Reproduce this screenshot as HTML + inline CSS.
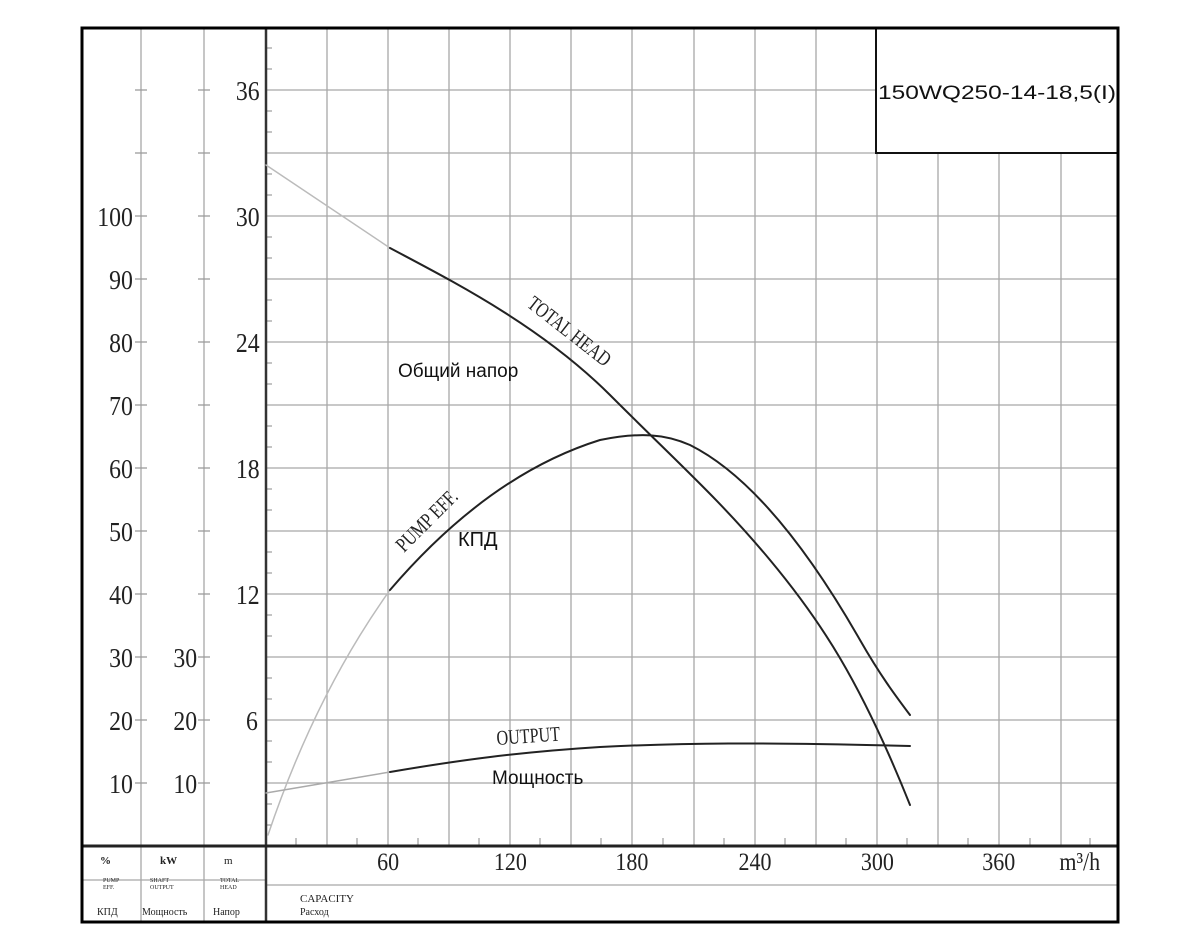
<!DOCTYPE html>
<html><head><meta charset="utf-8"><style>
html,body{margin:0;padding:0;background:#fff;}
svg{display:block;}
.s{font-family:"Liberation Serif",serif;fill:#222;}
.a{font-family:"Liberation Sans",sans-serif;fill:#111;}
</style></head><body>
<svg width="1200" height="950" viewBox="0 0 1200 950" xmlns="http://www.w3.org/2000/svg">
<rect width="1200" height="950" fill="#fff"/>
<g stroke="#a8a8a8" stroke-width="1.3" fill="none">
<path d="M327 28V846M388 28V846M449 28V846M510 28V846M571 28V846M632 28V846M694 28V846M755 28V846M816 28V846M877 153V846M938 153V846M999 153V846M1061 153V846"/>
<path d="M266 90H876M266 153H1118M266 216H1118M266 279H1118M266 342H1118M266 405H1118M266 468H1118M266 531H1118M266 594H1118M266 657H1118M266 720H1118M266 783H1118"/>
<path d="M141 28V922M204 28V922"/>
<path d="M82 880H266M266 885H1118"/>
</g>
<g stroke="#999" stroke-width="1.3">
<path d="M135 90h12M198 90h12M135 153h12M198 153h12M135 216h12M198 216h12M135 279h12M198 279h12M135 342h12M198 342h12M135 405h12M198 405h12M135 468h12M198 468h12M135 531h12M198 531h12M135 594h12M198 594h12M135 657h12M198 657h12M135 720h12M198 720h12M135 783h12M198 783h12"/>
</g>
<g stroke="#888" stroke-width="1">
<path d="M266 48h6M266 69h6M266 111h6M266 132h6M266 174h6M266 195h6M266 237h6M266 258h6M266 300h6M266 321h6M266 363h6M266 384h6M266 426h6M266 447h6M266 489h6M266 510h6M266 552h6M266 573h6M266 615h6M266 636h6M266 678h6M266 699h6M266 741h6M266 762h6M266 804h6M266 825h6"/>
<path d="M296 846v-8M357 846v-8M418 846v-8M479 846v-8M540 846v-8M601 846v-8M663 846v-8M724 846v-8M785 846v-8M846 846v-8M907 846v-8M968 846v-8M1030 846v-8M1090 846v-8"/>
</g>
<path d="M266 28V922" stroke="#333" stroke-width="2.5"/>
<path d="M82 846H1118" stroke="#222" stroke-width="3"/>
<rect x="876" y="28" width="242" height="125" fill="#fff" stroke="#111" stroke-width="2"/>
<text x="878" y="99" class="a" font-size="19" textLength="238" lengthAdjust="spacingAndGlyphs">150WQ250-14-18,5(I)</text>
<rect x="82" y="28" width="1036" height="894" fill="none" stroke="#000" stroke-width="3"/>
<g class="s" font-size="27" text-anchor="end">
<g transform="scale(0.88,1)">
<text x="295" y="100">36</text><text x="295" y="226">30</text><text x="295" y="352">24</text><text x="295" y="478">18</text><text x="295" y="604">12</text><text x="293" y="730">6</text>
<text x="151" y="226">100</text><text x="151" y="289">90</text><text x="151" y="352">80</text><text x="151" y="415">70</text><text x="151" y="478">60</text><text x="151" y="541">50</text><text x="151" y="604">40</text><text x="151" y="667">30</text><text x="151" y="730">20</text><text x="151" y="793">10</text>
<text x="224" y="667">30</text><text x="224" y="730">20</text><text x="224" y="793">10</text>
</g>
</g>
<g class="s" font-size="25" text-anchor="middle">
<g transform="scale(0.88,1)">
<text x="441" y="870">60</text><text x="580" y="870">120</text><text x="718" y="870">180</text><text x="858" y="870">240</text><text x="997" y="870">300</text><text x="1135" y="870">360</text>
<text x="1227" y="870">m³/h</text>
</g>
</g>
<g class="s" font-size="11" fill="#333">
<text x="100" y="864" font-weight="bold">%</text><text x="160" y="864" font-weight="bold">kW</text><text x="224" y="864">m</text>
<text x="103" y="882" font-size="6">PUMP</text><text x="103" y="889" font-size="6">EFF.</text>
<text x="150" y="882" font-size="6">SHAFT</text><text x="150" y="889" font-size="6">OUTPUT</text>
<text x="220" y="882" font-size="6">TOTAL</text><text x="220" y="889" font-size="6">HEAD</text>
<text x="97" y="915" font-size="10">КПД</text><text x="142" y="915" font-size="10">Мощность</text><text x="213" y="915" font-size="10">Напор</text>
<text x="300" y="902" font-size="11">CAPACITY</text><text x="300" y="915" font-size="10">Расход</text>
</g>
<g fill="none" stroke-linecap="round" stroke-linejoin="round">
<path d="M266 165 L390 248" stroke="#bbb" stroke-width="1.5"/>
<path d="M268 835 C300 740 340 660 390 590" stroke="#bbb" stroke-width="1.5"/>
<path d="M266 793 L390 772" stroke="#aaa" stroke-width="1.5"/>
<path d="M390 248 C450 280 540 325 610 395 S720 500 770 560 S860 680 910 805" stroke="#222" stroke-width="2"/>
<path d="M390 590 C450 520 520 465 600 440 C640 432 665 434 690 445 C760 480 820 570 860 640 C880 675 895 695 910 715" stroke="#222" stroke-width="2"/>
<path d="M390 772 C460 760 520 752 600 747 C680 743 760 742 910 746" stroke="#222" stroke-width="2"/>
</g>
<text class="s" font-size="19" transform="translate(526,306) rotate(38) scale(0.85,1.1)">TOTAL  HEAD</text>
<text class="a" font-size="19" x="398" y="377">Общий напор</text>
<text class="s" font-size="19" transform="translate(404,553) rotate(-45) scale(0.85,1.1)">PUMP  EFF.</text>
<text class="a" font-size="20" x="458" y="546">КПД</text>
<text class="s" font-size="19" transform="translate(497,745) rotate(-4) scale(0.85,1.1)">OUTPUT</text>
<text class="a" font-size="19" x="492" y="784">Мощность</text>
</svg>
</body></html>
